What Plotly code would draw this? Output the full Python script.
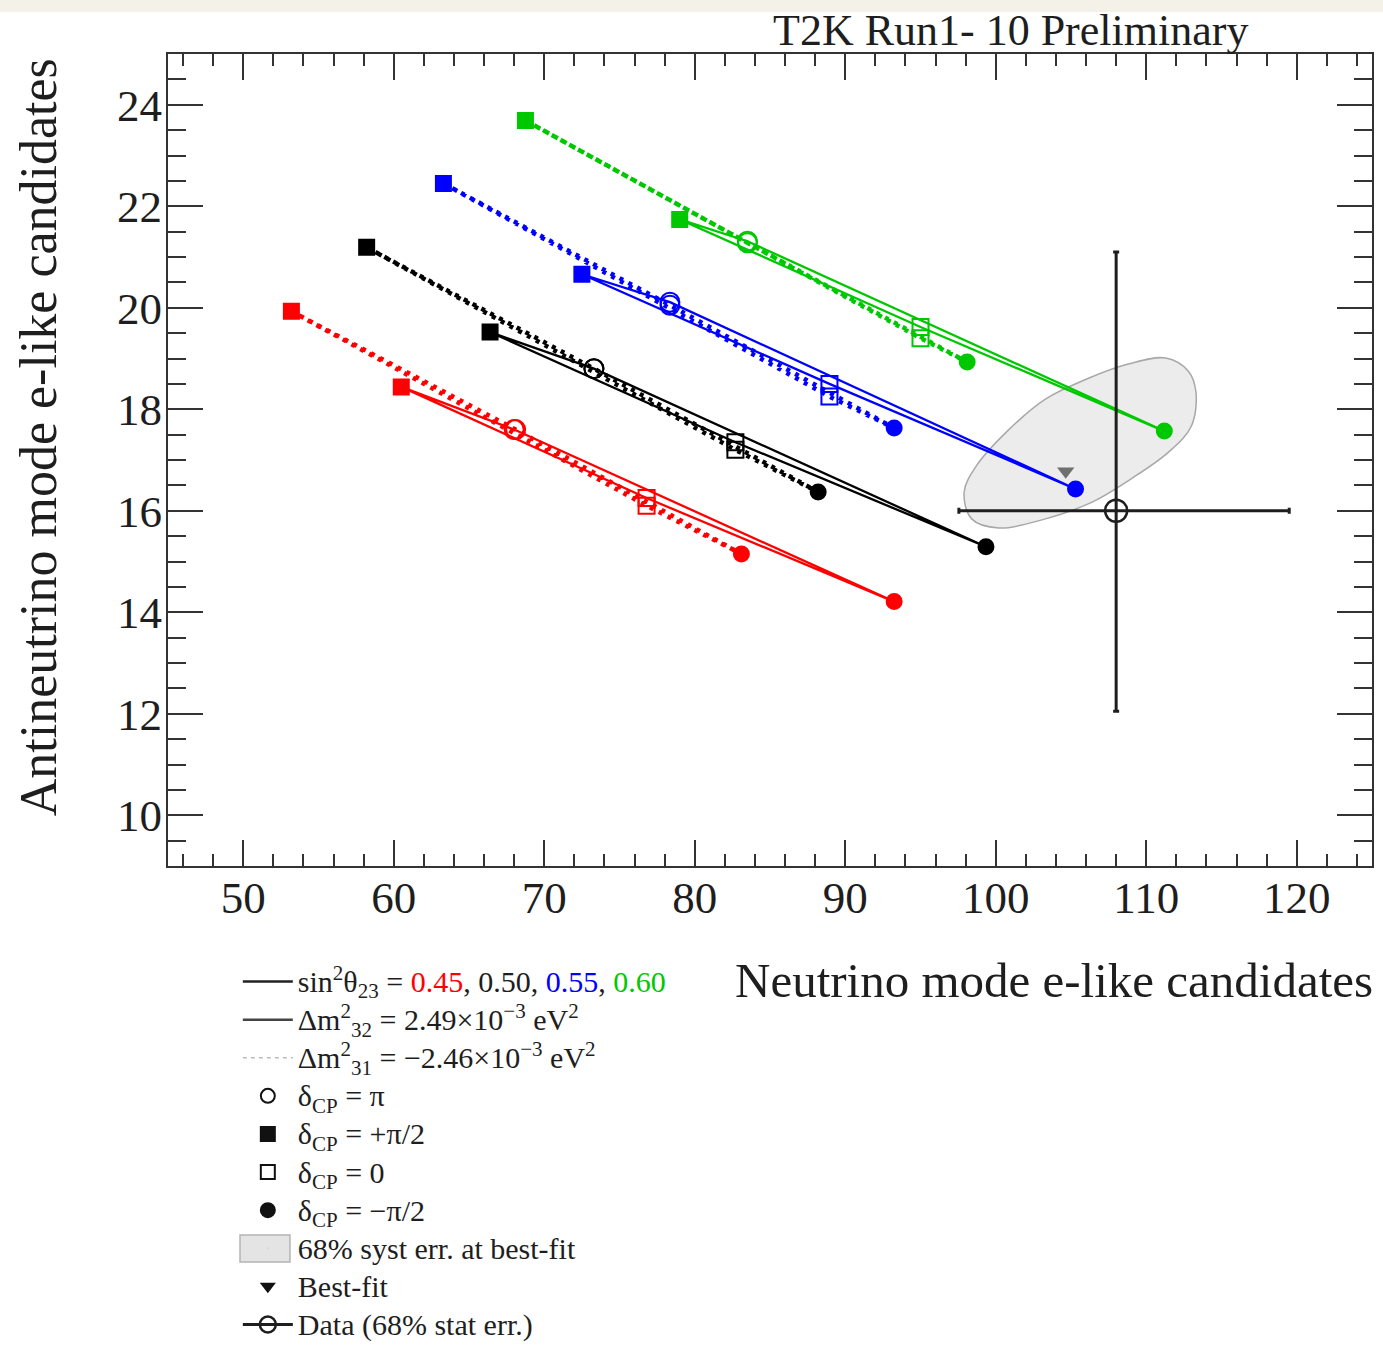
import plotly.graph_objects as go

# sin^2(theta_23) values, one bi-probability loop per value and mass ordering
SIN2_THETA23 = ["0.45", "0.50", "0.55", "0.60"]
LOOP_COLORS = ["#ff0000", "#000000", "#0000ff", "#00c800"]
# column order of the expected-count tables below
DELTA_CP = ["+π/2", "π", "−π/2", "0"]

# Expected e-like candidates, normal ordering (rows follow SIN2_THETA23)
NO_NUE = [
    [60.5, 68.0, 93.25, 76.8],
    [66.4, 73.3, 99.35, 82.7],
    [72.5, 78.35, 105.3, 88.95],
    [79.0, 83.5, 111.2, 95.0],
]
NO_NUEBAR = [
    [18.44, 17.60, 14.21, 16.25],
    [19.52, 18.80, 15.29, 17.35],
    [20.66, 20.11, 16.43, 18.50],
    [21.74, 21.31, 17.57, 19.62],
]
# Expected e-like candidates, inverted ordering
IO_NUE = [
    [53.2, 68.1, 83.1, 76.8],
    [58.2, 73.3, 88.2, 82.7],
    [63.3, 78.35, 93.25, 88.95],
    [68.75, 83.5, 98.1, 95.0],
]
IO_NUEBAR = [
    [19.93, 17.60, 15.15, 16.10],
    [21.19, 18.80, 16.37, 17.20],
    [22.45, 20.05, 17.63, 18.25],
    [23.69, 21.28, 18.93, 19.40],
]

# 68% systematic error contour around the best fit
SYST_NUE = [97.9, 98.7, 100.7, 103.3, 106.0, 108.8, 111.3, 112.8, 113.3,
            113.0, 111.5, 109.0, 106.4, 103.3, 100.2, 98.4, 97.9]
SYST_NUEBAR = [16.37, 16.88, 17.55, 18.20, 18.59, 18.89, 19.01, 18.75, 18.34,
               17.67, 17.16, 16.63, 16.17, 15.84, 15.66, 15.84, 16.37]

BEST_FIT_NUE = [104.65]
BEST_FIT_NUEBAR = [16.78]

DATA_NUE = [108]
DATA_NUEBAR = [16]
DATA_NUE_ERR_UP = [11.5]
DATA_NUE_ERR_DOWN = [10.45]
DATA_NUEBAR_ERR_UP = [5.1]
DATA_NUEBAR_ERR_DOWN = [3.95]

SERIF = "Liberation Serif"
INK = "#1e1e1e"

# marker style for each delta_CP column
SYMBOLS = ["square", "circle-open", "circle", "square-open"]
SIZES = [15, 19, 15, 16]

fig = go.Figure()

fig.add_trace(go.Scatter(
    x=SYST_NUE, y=SYST_NUEBAR, mode="lines", fill="toself",
    fillcolor="#ececec", line=dict(color="#a8a8a8", width=1.5, shape="spline"),
    showlegend=False, hoverinfo="skip",
))

for i, col in enumerate(LOOP_COLORS):
    fig.add_trace(go.Scatter(
        x=IO_NUE[i] + IO_NUE[i][:1], y=IO_NUEBAR[i] + IO_NUEBAR[i][:1],
        mode="lines", line=dict(color=col, width=4.5, dash="4px,6px"),
        showlegend=False,
    ))
    fig.add_trace(go.Scatter(
        x=NO_NUE[i] + NO_NUE[i][:1], y=NO_NUEBAR[i] + NO_NUEBAR[i][:1],
        mode="lines", line=dict(color=col, width=2.3),
        showlegend=False,
    ))

for i, col in enumerate(LOOP_COLORS):
    for xs, ys in ((IO_NUE[i], IO_NUEBAR[i]), (NO_NUE[i], NO_NUEBAR[i])):
        fig.add_trace(go.Scatter(
            x=xs, y=ys, mode="markers",
            marker=dict(symbol=SYMBOLS, size=SIZES, color=col, opacity=1,
                        line=dict(color=col, width=2)),
            text=DELTA_CP, showlegend=False,
        ))

fig.add_trace(go.Scatter(
    x=BEST_FIT_NUE, y=BEST_FIT_NUEBAR, mode="markers",
    marker=dict(symbol="triangle-down", size=15, color="#6f6f6f", opacity=1),
    showlegend=False,
))

fig.add_trace(go.Scatter(
    x=DATA_NUE, y=DATA_NUEBAR, mode="lines+markers",
    marker=dict(symbol="circle-open", size=22, color=INK, line=dict(width=2.5, color=INK)),
    line=dict(color=INK, width=3),
    error_x=dict(type="data", symmetric=False, array=DATA_NUE_ERR_UP,
                 arrayminus=DATA_NUE_ERR_DOWN, color=INK, thickness=3, width=3),
    error_y=dict(type="data", symmetric=False, array=DATA_NUEBAR_ERR_UP,
                 arrayminus=DATA_NUEBAR_ERR_DOWN, color=INK, thickness=3, width=3),
    name="<span style='font-size:30px'>Data (68% stat err.)</span>", legendrank=10,
))


def big(s):
    return "<span style='font-size:30px'>" + s + "</span>"


# legend-only entries
legend_lines = [
    ("sin<sup>2</sup>θ<sub>23</sub> = <span style='color:#ff0000'>0.45</span>, 0.50, "
     "<span style='color:#0000ff'>0.55</span>, <span style='color:#00c800'>0.60</span>",
     dict(color="#222222", width=2.5)),
    ("Δm<sup>2</sup><sub>32</sub> = 2.49×10<sup>−3</sup> eV<sup>2</sup>",
     dict(color="#444444", width=2.5)),
    ("Δm<sup>2</sup><sub>31</sub> = −2.46×10<sup>−3</sup> eV<sup>2</sup>",
     dict(color="#bbbbbb", width=1.5, dash="4px,4px")),
]
for k, (label, ln) in enumerate(legend_lines):
    fig.add_trace(go.Scatter(x=[None], y=[None], mode="lines", line=ln,
                             name=big(label), legendrank=k + 1))

legend_markers = [
    ("δ<sub>CP</sub> = π", "circle-open"),
    ("δ<sub>CP</sub> = +π/2", "square"),
    ("δ<sub>CP</sub> = 0", "square-open"),
    ("δ<sub>CP</sub> = −π/2", "circle"),
]
for k, (label, sym) in enumerate(legend_markers):
    fig.add_trace(go.Scatter(x=[None], y=[None], mode="markers",
                             marker=dict(symbol=sym, size=14, color="#111111",
                                         line=dict(color="#111111", width=2)),
                             name=big(label), legendrank=k + 4))

# the swatch of this entry is the grey box drawn as a layout shape
fig.add_trace(go.Scatter(x=[None], y=[None], mode="markers",
                         marker=dict(size=1, opacity=0),
                         name=big("68% syst err. at best-fit"), legendrank=8))

fig.add_trace(go.Scatter(x=[None], y=[None], mode="markers",
                         marker=dict(symbol="triangle-down", size=14, color="#111111"),
                         name=big("Best-fit"), legendrank=9))

axis_common = dict(
    showgrid=False, zeroline=False, showline=True, linecolor="#333333", linewidth=2,
    mirror="ticks", ticks="inside", tickcolor="#333333", tickwidth=2,
    tickfont=dict(family=SERIF, size=45, color=INK),
)

fig.update_xaxes(range=[45, 125], dtick=10, tick0=50, ticklen=26,
                 minor=dict(dtick=2, ticklen=12, ticks="inside", tickcolor="#333333", tickwidth=2),
                 ticklabelstandoff=-9, **axis_common)
fig.update_yaxes(range=[9, 25], dtick=2, tick0=10, ticklen=35,
                 minor=dict(dtick=0.5, ticklen=18, ticks="inside", tickcolor="#333333", tickwidth=2),
                 ticklabelstandoff=-5, **axis_common)

fig.update_layout(
    width=1383, height=1353,
    margin=dict(l=168, r=11, t=54, b=487, autoexpand=False),
    paper_bgcolor="white", plot_bgcolor="white",
    font=dict(family=SERIF, color=INK),
    showlegend=True,
    legend=dict(
        x=0.058, y=0.2923, xref="paper", yref="container",
        xanchor="left", yanchor="top",
        bgcolor="rgba(0,0,0,0)", borderwidth=0,
        font=dict(family=SERIF, size=27, color=INK),
        itemwidth=50, tracegroupgap=0, traceorder="normal",
    ),
    shapes=[
        dict(type="rect", xref="paper", yref="paper",
             x0=-0.2, x1=1.05, y0=1.0517, y1=1.08,
             fillcolor="#f4f1e9", line=dict(width=0), layer="above"),
        dict(type="rect", xref="paper", yref="paper",
             x0=0.0598, x1=0.1013, y0=-0.4877, y1=-0.4544,
             fillcolor="#e4e4e4", line=dict(color="#b4b4b4", width=1.5)),
    ],
    annotations=[
        dict(text="T2K Run1- 10 Preliminary", xref="paper", yref="paper",
             x=0.700, y=1.029, xanchor="center", yanchor="middle", showarrow=False,
             font=dict(family=SERIF, size=44, color=INK)),
        dict(text="Neutrino mode e-like candidates", xref="paper", yref="paper",
             x=1.0025, y=-0.1404, xanchor="right", yanchor="middle", showarrow=False,
             font=dict(family=SERIF, size=49, color=INK)),
        dict(text="Antineutrino mode e-like candidates", xref="paper", yref="paper",
             x=-0.108, y=0.528, xanchor="center", yanchor="middle", showarrow=False,
             textangle=-90, font=dict(family=SERIF, size=52, color=INK)),
    ],
)

fig.write_html("out.html")
